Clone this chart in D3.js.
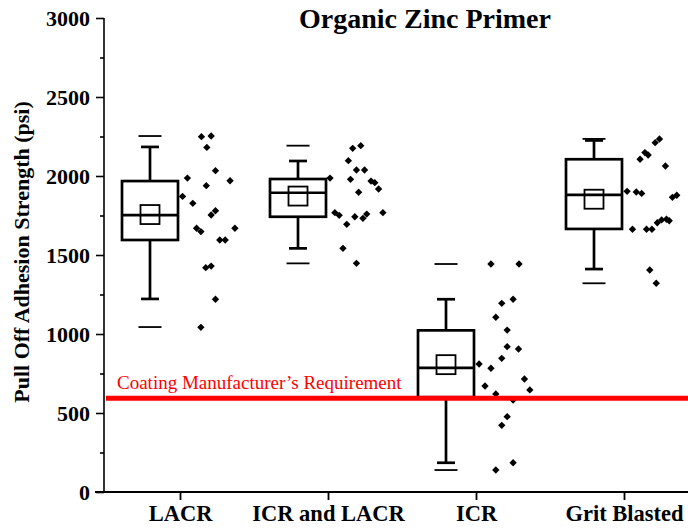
<!DOCTYPE html>
<html>
<head>
<meta charset="utf-8">
<script src="https://cdn.jsdelivr.net/npm/d3@7"></script>
<style>
html,body{margin:0;padding:0;background:#fff;}
svg{display:block;font-family:"Liberation Serif","Times New Roman",serif;}
</style>
</head>
<body>
<svg id="chart" width="688" height="531"></svg>
<script>
const categories = ["LACR", "ICR and LACR", "ICR", "Grit Blasted"];
const yTicks = [0, 500, 1000, 1500, 2000, 2500, 3000];
const yMinorTicks = [250, 750, 1250, 1750, 2250, 2750];
const requirement = 600;

// box statistics per category
const statMax      = [2253, 2192, 1443, 2235];
const statWhiskHi  = [2184, 2095, 1220, 2225];
const statQ3       = [1968, 1981, 1023, 2106];
const statMedian   = [1753, 1894,  785, 1880];
const statMean     = [1756, 1873,  806, 1853];
const statQ1       = [1595, 1742,  600, 1665];
const statWhiskLo  = [1222, 1542,  185, 1411];
const statMin      = [1044, 1447,  139, 1321];

// raw data points (psi) and their jitter (0..1 across the point strip)
const valsLACR = [2249, 2253, 2181, 1987, 2034, 1970, 1939, 1871, 1827, 1753, 1780, 1669, 1648, 1669, 1595, 1595, 1420, 1430, 1220, 1042];
const jitLACR  = [0.36, 0.54, 0.46, 0.10, 0.62, 0.89, 0.45, 0.01, 0.20, 0.54, 0.62, 0.27, 0.35, 0.98, 0.70, 0.80, 0.44, 0.54, 0.62, 0.35];
const valsICRLACR = [2175, 2192, 2097, 2038, 2038, 1987, 1979, 1968, 1958, 1918, 1897, 1768, 1751, 1694, 1742, 1732, 1759, 1768, 1542, 1447];
const jitICRLACR  = [0.42, 0.57, 0.34, 0.49, 0.64, 0.00, 0.38, 0.76, 0.83, 0.90, 0.53, 0.09, 0.17, 0.31, 0.46, 0.61, 0.68, 0.98, 0.24, 0.49];
const valsICR = [1443, 1443, 1194, 1220, 1106, 1025, 920, 905, 846, 810, 783, 715, 646, 671, 620, 582, 477, 422, 139, 185];
const jitICR  = [0.24, 0.76, 0.44, 0.65, 0.33, 0.54, 0.54, 0.75, 0.44, 0.02, 0.24, 0.86, 0.96, 0.13, 0.33, 0.65, 0.54, 0.44, 0.33, 0.65];
const valsGrit = [2211, 2234, 2106, 2148, 2133, 2063, 1903, 1899, 1890, 1865, 1878, 1663, 1663, 1663, 1704, 1722, 1726, 1717, 1405, 1321];
const jitGrit  = [0.54, 0.62, 0.26, 0.35, 0.41, 0.73, 0.02, 0.19, 0.29, 0.86, 0.94, 0.12, 0.38, 0.48, 0.58, 0.66, 0.75, 0.80, 0.44, 0.56];

const pointVals = [valsLACR, valsICRLACR, valsICR, valsGrit];
const pointJit  = [jitLACR, jitICRLACR, jitICR, jitGrit];

const svg = d3.select("#chart");
const W = 688, H = 531;
const plotLeft = 104, plotTop = 18, plotBottom = 492;

const y = d3.scaleLinear().domain([0, 3000]).range([plotBottom, plotTop]);
const x = d3.scalePoint().domain(categories).range([180, 624]);

const boxOffset = -30, boxW = 56, capW = 18, dashW = 23, meanSize = 19;
const stripStart = 2, stripW = 54;

// Title
svg.append("text").attr("x", 425).attr("y", 28).attr("text-anchor", "middle")
  .attr("font-size", 28).attr("font-weight", "bold").text("Organic Zinc Primer");

// Y axis
const yAxis = d3.axisLeft(y).tickValues(yTicks).tickSize(8).tickPadding(6).tickFormat(d3.format("d"));
const gy = svg.append("g").attr("transform", `translate(${plotLeft},0)`).call(yAxis);
gy.select(".domain").attr("stroke", "#000").attr("stroke-width", 1.6).attr("d", `M0,${plotTop}V${plotBottom}`);
gy.selectAll(".tick line").attr("stroke-width", 1.6);
gy.selectAll(".tick text").attr("font-size", 22).attr("font-weight", "bold")
  .attr("font-family", "Liberation Serif, Times New Roman, serif").attr("fill", "#000");
const gyMinor = svg.append("g").attr("transform", `translate(${plotLeft},0)`)
  .call(d3.axisLeft(y).tickValues(yMinorTicks).tickSize(4).tickFormat(""));
gyMinor.select(".domain").remove();
gyMinor.selectAll(".tick line").attr("stroke-width", 1.6);

// X axis
const xAxis = d3.axisBottom(x).tickSize(8).tickPadding(4);
const gx = svg.append("g").attr("transform", `translate(0,${plotBottom})`).call(xAxis);
gx.select(".domain").attr("stroke", "#000").attr("stroke-width", 1.8).attr("d", `M95,0H${W}`);
gx.selectAll(".tick line").attr("stroke-width", 1.8);
gx.selectAll(".tick text").attr("font-size", 22.5).attr("font-weight", "bold")
  .attr("font-family", "Liberation Serif, Times New Roman, serif").attr("fill", "#000")
  .attr("dy", "0.74em");

// Y label
svg.append("text").attr("transform", `translate(29,${(plotTop + plotBottom) / 2 - 3}) rotate(-90)`)
  .attr("text-anchor", "middle").attr("font-size", 22).attr("font-weight", "bold")
  .text("Pull Off Adhesion Strength (psi)");

// Boxes
const boxes = svg.append("g");
categories.forEach((c, i) => {
  const cx = x(c) + boxOffset;
  const g = boxes.append("g").attr("stroke", "#000").attr("fill", "none");
  g.append("line").attr("x1", cx).attr("x2", cx).attr("y1", y(statWhiskHi[i])).attr("y2", y(statQ3[i])).attr("stroke-width", 2.7);
  g.append("line").attr("x1", cx).attr("x2", cx).attr("y1", y(statQ1[i])).attr("y2", y(statWhiskLo[i])).attr("stroke-width", 2.7);
  [statWhiskHi[i], statWhiskLo[i]].forEach(v => {
    g.append("line").attr("x1", cx - capW / 2).attr("x2", cx + capW / 2).attr("y1", y(v)).attr("y2", y(v)).attr("stroke-width", 2.7);
  });
  [statMax[i], statMin[i]].forEach(v => {
    g.append("line").attr("x1", cx - dashW / 2).attr("x2", cx + dashW / 2).attr("y1", y(v)).attr("y2", y(v)).attr("stroke-width", 1.8);
  });
  g.append("rect").attr("x", cx - boxW / 2).attr("y", y(statQ3[i])).attr("width", boxW)
    .attr("height", y(statQ1[i]) - y(statQ3[i])).attr("stroke-width", 2.7);
  g.append("line").attr("x1", cx - boxW / 2).attr("x2", cx + boxW / 2).attr("y1", y(statMedian[i])).attr("y2", y(statMedian[i])).attr("stroke-width", 2.7);
  g.append("rect").attr("x", cx - meanSize / 2).attr("y", y(statMean[i]) - meanSize / 2)
    .attr("width", meanSize).attr("height", meanSize).attr("stroke-width", 1.8);
});

// Points
const diamond = d3.symbol().type(d3.symbolSquare).size(27);
const pts = svg.append("g");
categories.forEach((c, i) => {
  pointVals[i].forEach((v, k) => {
    const px = x(c) + stripStart + pointJit[i][k] * stripW;
    pts.append("path").attr("d", diamond())
      .attr("transform", `translate(${px},${y(v)}) rotate(45)`)
      .attr("fill", "#000");
  });
});

// Requirement line
svg.append("line").attr("x1", plotLeft + 2).attr("x2", W).attr("y1", y(requirement) + 1).attr("y2", y(requirement) + 1)
  .attr("stroke", "#ff0000").attr("stroke-width", 5);
svg.append("text").attr("x", 117).attr("y", y(requirement) - 8).attr("fill", "#ff0000")
  .attr("font-size", 19).text("Coating Manufacturer\u2019s Requirement");
</script>
</body>
</html>
